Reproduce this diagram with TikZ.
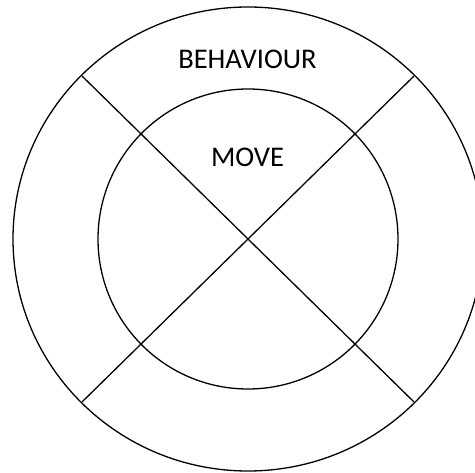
\documentclass[tikz,border=0pt]{standalone}
\usepackage{fontspec}
\setmainfont{Carlito}
\begin{document}
\begin{tikzpicture}[x=1pt,y=-1pt,
  ring/.style={draw=black,line width=1.3pt},
  spoke/.style={draw=black,line width=1.3pt},
  lbl/.style={font=\fontsize{28.5}{32}\selectfont,inner sep=0pt,anchor=center}]
\useasboundingbox (0,0) rectangle (475,473);
\coordinate (c) at (248,239);
\draw[ring] (c) ellipse [x radius=235, y radius=232];
\draw[ring] (c) circle [radius=150];
\coordinate (tl) at (82,76);
\coordinate (br) at (414,402);
\coordinate (tr) at (414,76);
\coordinate (bl) at (82,402);
\draw[spoke] (tl) -- (br);
\draw[spoke] (tr) -- (bl);
\node[lbl] (beh) at (247.5,59) {BEHAVIOUR};
\node[lbl] (mov) at (247.5,157.5) {MOVE};
\end{tikzpicture}
\end{document}
